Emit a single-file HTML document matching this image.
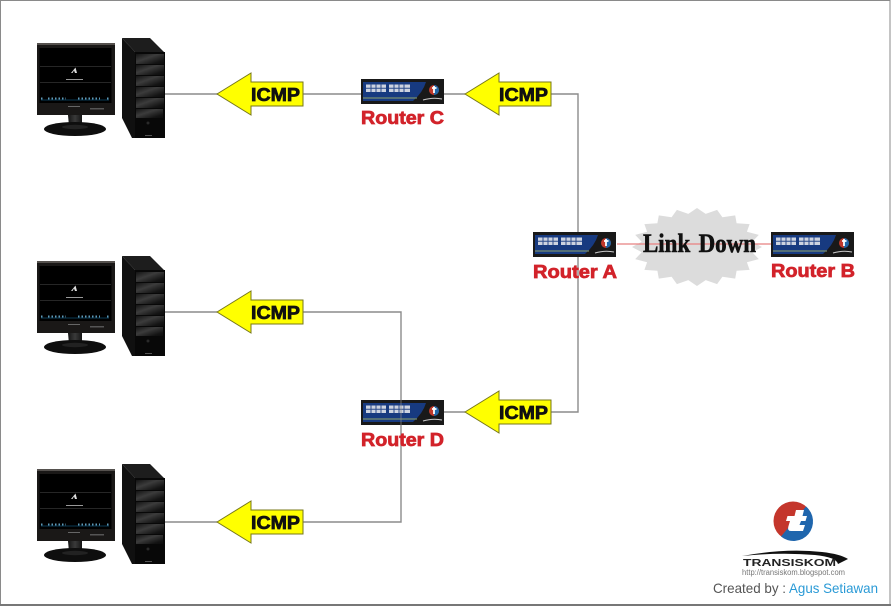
<!DOCTYPE html>
<html><head><meta charset="utf-8"><style>
html,body{margin:0;padding:0;background:#fff;width:891px;height:607px;overflow:hidden}
svg{display:block;filter:blur(.35px)}
.lbl{font:bold 18.500px "Liberation Sans",sans-serif;fill:#d2232a;stroke:#d2232a;stroke-width:.75}
.ic{font:bold 18.500px "Liberation Sans",sans-serif;fill:#111;stroke:#111;stroke-width:.75}
</style></head><body>
<svg width="891" height="607" viewBox="0 0 891 607" xmlns="http://www.w3.org/2000/svg">
<defs>
<linearGradient id="tw" x1="0" x2="1" y1="0" y2="1"><stop offset="0" stop-color="#141414"/><stop offset=".4" stop-color="#3c3c3c"/><stop offset=".8" stop-color="#141414"/><stop offset="1" stop-color="#0c0c0c"/></linearGradient>
<linearGradient id="nk" x1="0" x2="1" y1="0" y2="0"><stop offset="0" stop-color="#151515"/><stop offset=".5" stop-color="#3a3a3a"/><stop offset="1" stop-color="#151515"/></linearGradient>
<g id="pc">
<path d="M37 43H115V115H37Z" fill="#1a1817"/>
<path d="M37 43H115V45H37Z" fill="#55514e"/>
<rect x="39.500" y="48" width="72" height="55" fill="#000"/>
<path d="M40 66.500H111M40 82.500H111" stroke="#262626" stroke-width="1"/>
<path d="M71 73L75.500 67.500L77 73H75L74 70.500L72.500 73Z" fill="#ddd"/><rect x="66" y="79" width="17" height="1" fill="#999"/>
<path d="M41 100H109" stroke="#0a3a55" stroke-width="1"/>
<path d="M41 98.500H43M48 98.500H66M78 98.500H100M107 98.500H109" stroke="#5f9ab8" stroke-width="2" stroke-dasharray="1.500 2"/>
<rect x="68" y="106" width="12" height="1" fill="#666"/><rect x="90" y="108" width="14" height="1.500" fill="#555"/>
<path d="M68 115H82L82 126H69Z" fill="url(#nk)"/>
<ellipse cx="75" cy="129" rx="31" ry="7" fill="#0e0e0e"/>
<ellipse cx="75" cy="127" rx="13" ry="2.200" fill="#222"/>
<path d="M122 38H150L164 52L135 52Z" fill="#1d1d1d"/>
<path d="M122 38L135 52V138H132L122 118Z" fill="#101010"/>
<rect x="135" y="52" width="30" height="86" fill="#080808"/>
<g fill="url(#tw)"><rect x="136" y="54" width="28" height="10"/><rect x="136" y="65" width="28" height="10"/><rect x="136" y="76" width="28" height="10"/><rect x="136" y="87" width="28" height="10"/><rect x="136" y="98" width="28" height="10"/><rect x="136" y="109" width="27" height="9"/></g>
<circle cx="148" cy="123" r="1.500" fill="#2a2a2a"/><rect x="145" y="135" width="7" height="1" fill="#555"/>
</g>
<g id="rt">
<rect x="0" y="0" width="83" height="25" fill="#191919"/>
<path d="M2 3H65Q62 13 52 22H2Z" fill="#173a80"/>
<path d="M2 19H56" stroke="#8fa36a" stroke-width="1"/>
<g fill="#cdd3e0"><rect x="5" y="5.500" width="20" height="7.500"/><rect x="28" y="5.500" width="21" height="7.500"/></g>
<path d="M10 5V13M15 5V13M20 5V13M33 5V13M38 5V13M43 5V13M5 9.200H25M28 9.200H49" stroke="#2a4a8a" stroke-width="1"/>
<circle cx="73" cy="11" r="5" fill="#c0392b"/><path d="M73 6A5 5 0 0 1 73 16Z" fill="#1f66a8"/><path d="M71 9H75.500M73 7V14" stroke="#fff" stroke-width="1.800"/>
<path d="M62 21Q72 18 81 20" stroke="#ccc" stroke-width="1" fill="none"/>
</g>
<g id="ar"><path d="M0 0L34 -21V-12H86V12H34V21Z" fill="#ffff00" stroke="#77771a" stroke-width="1"/><text class="ic" x="34" y="7" textLength="49" lengthAdjust="spacingAndGlyphs">ICMP</text></g>
</defs>
<rect width="891" height="607" fill="#fff"/>
<rect x=".5" y=".5" width="889.500" height="604.500" fill="none" stroke="#8a8a8a" stroke-width="1"/>
<rect x="0" y="604" width="891" height="2" fill="#777"/>

<use href="#pc"/><use href="#pc" y="218"/><use href="#pc" y="426"/>

<g fill="none" stroke="#8c8c8c" stroke-width="1.400">
<path d="M165 94H361M444 94H465M550 94H578V412H550M444 412H465"/>
<path d="M165 312H217M303 312H401V522H303M217 522H165"/>
</g>
<polygon fill="#dcdcdc" points="762,247 752.300,252.200 758.800,259.100 746.900,262.200 749.600,269.900 736.600,270.700 735.200,278.600 722.400,276.800 717.100,284.100 705.700,280.100 697,286 688.300,280.100 676.900,284.100 671.600,276.800 658.800,278.600 657.400,270.700 644.400,269.900 647.100,262.200 635.200,259.100 641.700,252.200 632,247 641.700,241.800 635.200,234.900 647.100,231.800 644.400,224.100 657.400,223.300 658.800,215.400 671.600,217.200 676.900,209.900 688.300,213.900 697,208 705.700,213.900 717.100,209.900 722.400,217.200 735.200,215.400 736.600,223.300 749.600,224.100 746.900,231.800 758.800,234.900 752.300,241.800"/>
<path d="M617 244H771" stroke="#e88080" stroke-width="1.200"/>
<text x="643" y="252" textLength="113" lengthAdjust="spacingAndGlyphs" style="font:bold 26px 'Liberation Serif',serif;fill:#111;stroke:#111;stroke-width:.6;word-spacing:3px">Link Down</text>

<use href="#rt" x="361" y="79"/><use href="#rt" x="533" y="232"/><use href="#rt" x="771" y="232"/><use href="#rt" x="361" y="400"/>
<path d="M401 400V425" stroke="#8c8c8c" stroke-width="1" opacity=".7"/>

<text class="lbl" x="361" y="124" textLength="83" lengthAdjust="spacingAndGlyphs">Router C</text>
<text class="lbl" x="533" y="278" textLength="84" lengthAdjust="spacingAndGlyphs">Router A</text>
<text class="lbl" x="771" y="277" textLength="84" lengthAdjust="spacingAndGlyphs">Router B</text>
<text class="lbl" x="361" y="446" textLength="83" lengthAdjust="spacingAndGlyphs">Router D</text>

<use href="#ar" x="217" y="94"/><use href="#ar" x="465" y="94"/><use href="#ar" x="217" y="312"/><use href="#ar" x="465" y="412"/><use href="#ar" x="217" y="522"/>

<circle cx="793" cy="521" r="19.500" fill="#c4362c"/>
<path d="M806 506.500A19.500 19.500 0 0 1 781 536.500Z" fill="#1f66ad"/>
<path d="M796 510H804L802.500 516H807L805.500 521H801L799.500 525H805L803 531H791Q787 531 788.500 526L790 521H786L787.500 516H794.500Z" fill="#fff"/>
<path d="M742 556Q785 548 822 552Q840 554 848 559L838 564Q836 557 815 555Q780 552 742 556Z" fill="#111"/>
<text x="743" y="566" textLength="93" lengthAdjust="spacingAndGlyphs" style="font:bold 10.500px 'Liberation Sans',sans-serif;fill:#222">TRANSISKOM</text>
<text x="742" y="575" textLength="103" lengthAdjust="spacingAndGlyphs" style="font:8px 'Liberation Sans',sans-serif;fill:#777">http://transiskom.blogspot.com</text>
<text x="713" y="593" style="font:14px 'Liberation Sans',sans-serif;fill:#555" textLength="73" lengthAdjust="spacingAndGlyphs">Created by :</text>
<text x="789" y="593" style="font:14px 'Liberation Sans',sans-serif;fill:#2a9ad6" textLength="89" lengthAdjust="spacingAndGlyphs">Agus Setiawan</text>
</svg>
</body></html>
